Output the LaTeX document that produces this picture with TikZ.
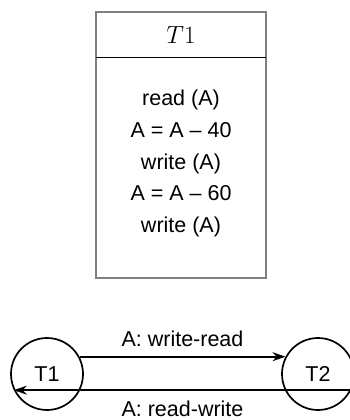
\documentclass[tikz,border=0pt]{standalone}
\usepackage{fontspec}
\setmainfont{Liberation Sans}
\usetikzlibrary{arrows.meta}
\tikzset{
  stmt/.style={font=\fontsize{21.5}{21.5}\selectfont, inner sep=0pt, anchor=base},
  txn/.style={circle, draw, line width=1.7pt, minimum size=72pt, inner sep=0pt,
              font=\fontsize{21.5}{21.5}\selectfont},
  edge/.style={line width=1.8pt, -{Stealth[length=13pt,width=9pt]}},
  elabel/.style={font=\fontsize{21.5}{21.5}\selectfont, inner sep=0pt}
}
\begin{document}
\begin{tikzpicture}[x=1pt,y=-1pt]
  \useasboundingbox (0,0) rectangle (349,420);
  % schedule table for T1
  \draw[draw=black!50, line width=1.3pt] (96,12) rectangle (266,278);
  \draw[line width=1pt] (96,58) -- (266,58);
  \node[inner sep=0pt, font=\fontsize{23}{23}\selectfont] (head) at (181,35) {$T1$};
  \node[stmt] (s1) at (181,105)  {read (A)};
  \node[stmt] (s2) at (181,137) {A = A – 40};
  \node[stmt] (s3) at (181,169) {write (A)};
  \node[stmt] (s4) at (181,200) {A = A – 60};
  \node[stmt] (s5) at (181,232) {write (A)};
  % precedence graph
  \node[txn] (t1) at (47,374) {T1};
  \node[txn] (t2) at (318,374) {T2};
  \draw[edge] (t1.28) -- (t2.152) node[elabel, midway, above=9pt] (l1) {A: write-read};
  \draw[edge] (t2.-26) -- (t1.-154) node[elabel, midway, below=10pt] (l2) {A: read-write};
\end{tikzpicture}
\end{document}
